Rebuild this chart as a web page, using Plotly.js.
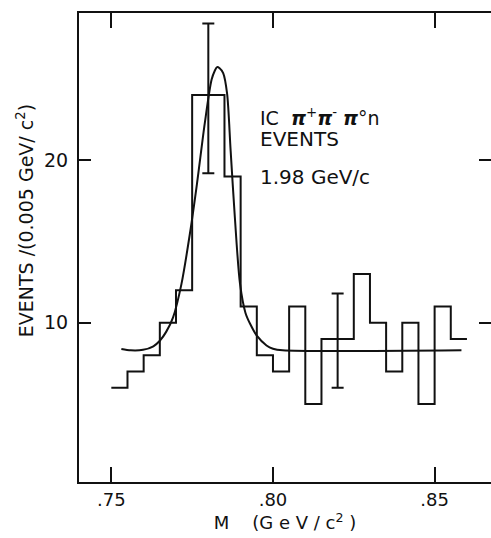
<!DOCTYPE html>
<html>
<head>
<meta charset="utf-8">
<script src="https://cdn.plot.ly/plotly-3.0.1.min.js"></script>
<style>html,body{margin:0;padding:0;background:#fff;}#chart{width:491px;height:538px;}</style>
</head>
<body>
<div id="chart"></div>
<script>
// Histogram bin edges (GeV/c^2) and event counts per 0.005 GeV/c^2 bin
const binEdges = [0.750,0.755,0.760,0.765,0.770,0.775,0.780,0.785,0.790,0.795,0.800,0.805,0.810,0.815,0.820,0.825,0.830,0.835,0.840,0.845,0.850,0.855,0.860];
const counts   = [6,7,8,10,12,24,24,19,11,8,7,11,5,9,9,13,10,7,10,5,11,9];

// Fitted curve
const curveM = [0.7531,0.7560,0.7598,0.7630,0.7650,0.7670,0.7691,0.7717,0.7743,0.7765,0.7789,0.7810,0.7820,0.7827,0.7835,0.7846,0.7858,0.7869,0.7882,0.7898,0.7915,0.7930,0.7950,0.7980,0.8000,0.8030,0.8583];
const curveV = [8.38,8.30,8.33,8.55,8.89,9.45,10.33,12.39,15.47,18.56,22.26,24.94,25.50,25.72,25.65,25.35,24.10,20.60,16.50,12.40,10.60,9.90,9.20,8.60,8.40,8.30,8.30];

// Representative error bars
const errM     = [0.780, 0.820];
const errV     = [24, 9];
const errPlus  = [4.4, 2.8];
const errMinus = [4.8, 3.0];

// Tick labels
const xTickVals = [0.75, 0.80, 0.85];
const xTickText = [".75", ".80", ".85"];
const yTickVals = [10, 20];
const yTickText = ["10", "20"];

const FONT = "DejaVu Sans, Liberation Sans, Arial, sans-serif";

const histY = counts.concat([counts[counts.length - 1]]);

const traces = [
  {
    x: binEdges, y: histY, type: "scatter", mode: "lines",
    line: {shape: "hv", color: "#111", width: 2},
    hoverinfo: "skip", showlegend: false
  },
  {
    x: curveM, y: curveV, type: "scatter", mode: "lines",
    line: {shape: "spline", smoothing: 0.8, color: "#111", width: 2},
    hoverinfo: "skip", showlegend: false
  },
  {
    x: errM, y: errV, type: "scatter", mode: "markers",
    marker: {size: 1, color: "rgba(0,0,0,0)"},
    error_y: {type: "data", symmetric: false, array: errPlus, arrayminus: errMinus,
              color: "#111", thickness: 2, width: 6},
    hoverinfo: "skip", showlegend: false
  }
];

const layout = {
  width: 491, height: 538,
  margin: {l: 79, r: 0, t: 13, b: 56},
  paper_bgcolor: "#fff", plot_bgcolor: "#fff",
  font: {family: FONT, color: "#111", size: 18},
  showlegend: false,
  xaxis: {
    range: [0.74, 0.86744],
    tickvals: xTickVals, ticktext: xTickText,
    ticks: "inside", ticklen: 15, tickwidth: 2, tickcolor: "#111",
    showline: true, linecolor: "#111", linewidth: 2, mirror: "ticks",
    showgrid: false, zeroline: false,
    tickfont: {family: FONT, size: 18, color: "#111"},
    title: {text: "M    (G e V / c<sup>2</sup> )", font: {family: FONT, size: 18, color: "#111"}, standoff: 3}
  },
  yaxis: {
    range: [0.2, 29.05],
    tickvals: yTickVals, ticktext: yTickText,
    ticks: "inside", ticklen: 12, tickwidth: 2, tickcolor: "#111",
    showline: true, linecolor: "#111", linewidth: 2, mirror: "ticks",
    showgrid: false, zeroline: false,
    ticklabelstandoff: 5,
    tickfont: {family: FONT, size: 19, color: "#111"}
  },
  annotations: [
    {xref: "paper", yref: "paper", x: -0.131, y: 0.556, xanchor: "center", yanchor: "middle",
     textangle: -90, showarrow: false,
     text: "EVENTS /(0.005 GeV/ c<sup>2</sup>)", font: {family: FONT, size: 19, color: "#111"}},
    {xref: "paper", yref: "paper", x: 0.4345, y: 0.778, xanchor: "left", yanchor: "middle", showarrow: false,
     text: "IC  <b><i>π</i></b><sup>+</sup><b><i>π</i></b><sup>-</sup> <b><i>π</i></b>°n", font: {family: FONT, size: 19, color: "#111"}},
    {xref: "paper", yref: "paper", x: 0.4345, y: 0.731, xanchor: "left", yanchor: "middle", showarrow: false,
     text: "EVENTS", font: {family: FONT, size: 20, color: "#111"}},
    {xref: "paper", yref: "paper", x: 0.4345, y: 0.650, xanchor: "left", yanchor: "middle", showarrow: false,
     text: "1.98 GeV/c", font: {family: FONT, size: 20, color: "#111"}}
  ]
};

Plotly.newPlot("chart", traces, layout, {staticPlot: true, displayModeBar: false});
</script>
</body>
</html>
